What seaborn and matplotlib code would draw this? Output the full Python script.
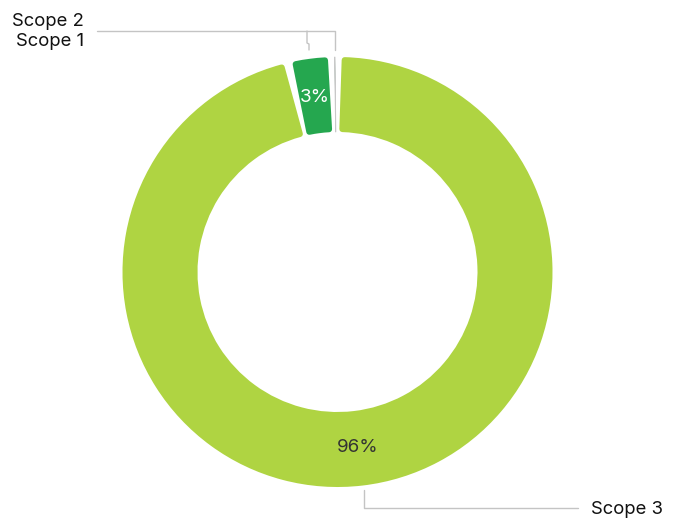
import matplotlib
matplotlib.use("Agg")
import matplotlib.pyplot as plt
import seaborn as sns
import numpy as np

# Data (clockwise from 12 o'clock)
scopes = ["Scope 3", "Scope 1", "Scope 2"]
shares = [96.3, 3.3, 0.4]
colors = ["#afd442", "#25a74f", "#25a74f"]
pct_colors = ["#333333", "#ffffff", "#ffffff"]

sns.set_theme(style="white")
plt.rcParams['font.family'] = ['Inter', 'DejaVu Sans']

W, H = 686, 532
fig = plt.figure(figsize=(W / 100, H / 100), dpi=100)
ax = fig.add_axes([0, 0, 1, 1])

# Work in pixel coordinates (y measured from top)
cx, cy, R = 337.5, 272, 215
ring = 75


def pct_fmt(p):
    return f"{p:.0f}%" if p >= 1 else ""


wedges, texts, autotexts = ax.pie(
    shares, colors=colors, startangle=90, counterclock=False,
    center=(cx, H - cy), radius=R, autopct=pct_fmt, pctdistance=0.82,
    wedgeprops=dict(width=ring),
    textprops=dict(fontsize=13.5),
)
for t, c in zip(autotexts, pct_colors):
    t.set_color(c)

# rounded corners: shrink each wedge and stroke it in its own colour
rpad = 3                       # px rounded outward by the stroke
gap = np.degrees(12 / (R - ring / 2))
for w, c in zip(wedges, colors):
    t1, t2 = w.theta1 + gap / 2, w.theta2 - gap / 2
    if t2 <= t1:
        mid = (w.theta1 + w.theta2) / 2
        w.set_theta1(mid - 0.05)
        w.set_theta2(mid + 0.05)
        w.set_edgecolor("#c8c8c8")
        w.set_linewidth(0.6)
        continue
    w.set_theta1(t1)
    w.set_theta2(t2)
    w.set_radius(R - rpad)
    w.set_width(ring - 2 * rpad)
    w.set_edgecolor(c)
    w.set_linewidth(2 * rpad * 72 / 100)
    w.set_joinstyle("round")

ax.set_xlim(0, W)
ax.set_ylim(0, H)
ax.set_aspect("equal")
ax.axis("off")

line_kw = dict(color="#c4c4c4", lw=1)


def yy(y):
    return H - y


# Leader lines
ax.plot([97, 335, 335], [yy(31), yy(31), yy(50)], **line_kw)
ax.plot([307, 307, 309, 309], [yy(31), yy(43), yy(44), yy(50)], **line_kw)
ax.plot([364, 364, 578], [yy(490), yy(508), yy(508)], **line_kw)

# Category labels
ax.text(84, yy(22), scopes[2], ha="right", va="center", fontsize=13.3, color="#111111")
ax.text(84, yy(41), scopes[1], ha="right", va="center", fontsize=13.3, color="#111111")
ax.text(591, yy(509), scopes[0], ha="left", va="center", fontsize=13.3, color="#111111")

fig.savefig("out.png", dpi=100)
